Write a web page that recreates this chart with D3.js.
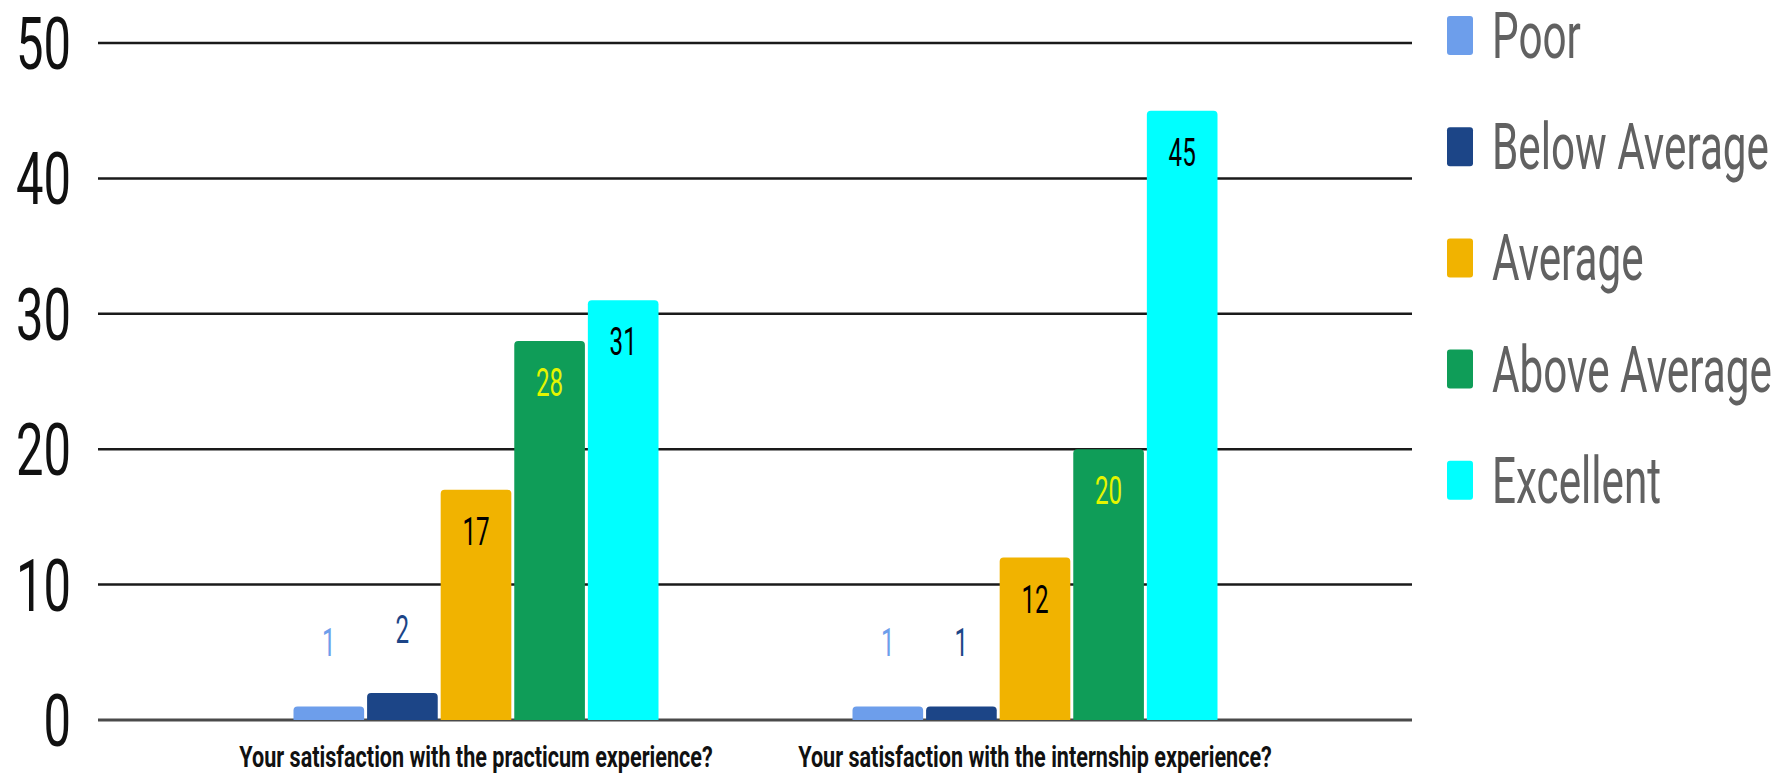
<!DOCTYPE html>
<html>
<head>
<meta charset="utf-8">
<script src="https://cdn.jsdelivr.net/npm/d3@7"></script>
<style>
  html, body { margin: 0; padding: 0; background: #ffffff; }
  svg { display: block; font-family: Roboto, "Noto Sans", sans-serif; }
</style>
</head>
<body>
<svg id="chart" width="1781" height="776"></svg>
<script>
// ---- data ----
const categories = [
  "Your satisfaction with the practicum experience?",
  "Your satisfaction with the internship experience?"
];
const series = ["Poor", "Below Average", "Average", "Above Average", "Excellent"];
const poor = [1, 1];
const belowAverage = [2, 1];
const average = [17, 12];
const aboveAverage = [28, 20];
const excellent = [31, 45];
const yTicks = [0, 10, 20, 30, 40, 50];

const seriesValues = [poor, belowAverage, average, aboveAverage, excellent];
const colors = ["#6d9eeb", "#1c4587", "#f1b300", "#0f9d58", "#00ffff"];
const insideLabelColors = ["#000000", "#000000", "#000000", "#e4f500", "#000000"];

// ---- layout ----
const svg = d3.select("#chart");
const gridLeft = 98, gridRight = 1412;
const y = d3.scaleLinear().domain([0, 50]).range([720, 43]);
const x0 = d3.scaleBand().domain(categories).range([196.5, 1314.5]).padding(0);
const groupSpan = 365;
const x1 = d3.scaleBand().domain(series)
  .range([x0.bandwidth() / 2 - groupSpan / 2, x0.bandwidth() / 2 + groupSpan / 2])
  .paddingInner(0.04).paddingOuter(0);

// condensed text helper
function ctext(parent, x, yy, str, opts) {
  const g = parent.append("g").attr("transform", `translate(${x},${yy}) scale(${opts.sx},1)`);
  return g.append("text")
    .attr("x", 0).attr("y", 0)
    .attr("text-anchor", opts.anchor || "middle")
    .attr("font-size", opts.size)
    .attr("font-weight", opts.weight || "normal")
    .attr("fill", opts.fill || "#000")
    .text(str);
}

// gridlines
const grid = svg.append("g");
grid.selectAll("line").data(yTicks).join("line")
  .attr("x1", gridLeft).attr("x2", gridRight)
  .attr("y1", d => y(d)).attr("y2", d => y(d))
  .attr("stroke", d => d === 0 ? "#4a4a4a" : "#1a1a1a")
  .attr("stroke-width", d => d === 0 ? 3 : 2.5);

// y tick labels
const yAxisG = svg.append("g");
yTicks.forEach(t => {
  ctext(yAxisG, 71, y(t) + 26, String(t), { sx: 0.68, size: 72, anchor: "end", fill: "#111" });
});

// bars
function roundedTop(x, yy, w, h, r) {
  r = Math.min(r, h, w / 2);
  return `M${x},${yy + h}V${yy + r}Q${x},${yy} ${x + r},${yy}H${x + w - r}Q${x + w},${yy} ${x + w},${yy + r}V${yy + h}Z`;
}

const barsG = svg.append("g");
const labelsG = svg.append("g");
categories.forEach((cat, ci) => {
  series.forEach((s, si) => {
    const v = seriesValues[si][ci];
    const bx = x0(cat) + x1(s);
    const bw = x1.bandwidth();
    const top = y(v);
    barsG.append("path")
      .attr("d", roundedTop(bx, top, bw, y(0) - top, 4))
      .attr("fill", colors[si]);
    const cx = bx + bw / 2;
    const inside = (y(0) - top) > 60;
    if (inside) {
      ctext(labelsG, cx, top + 55, String(v), { sx: 0.62, size: 39, fill: insideLabelColors[si] });
    } else {
      ctext(labelsG, cx, top - 50, String(v), { sx: 0.62, size: 39, fill: colors[si] });
    }
  });
});

// x category labels
const xAxisG = svg.append("g");
categories.forEach(cat => {
  ctext(xAxisG, x0(cat) + x0.bandwidth() / 2, 767, cat, { sx: 0.72, size: 30, weight: "bold", fill: "#111" });
});

// legend
const legend = svg.append("g");
series.forEach((s, i) => {
  const cy = 35.5 + i * 111.2;
  legend.append("rect")
    .attr("x", 1447).attr("y", cy - 19.5)
    .attr("width", 26).attr("height", 39)
    .attr("rx", 3).attr("ry", 3)
    .attr("fill", colors[i]);
  ctext(legend, 1492, cy + 22.5, s, { sx: 0.66, size: 64, anchor: "start", fill: "#616161" });
});
</script>
</body>
</html>
